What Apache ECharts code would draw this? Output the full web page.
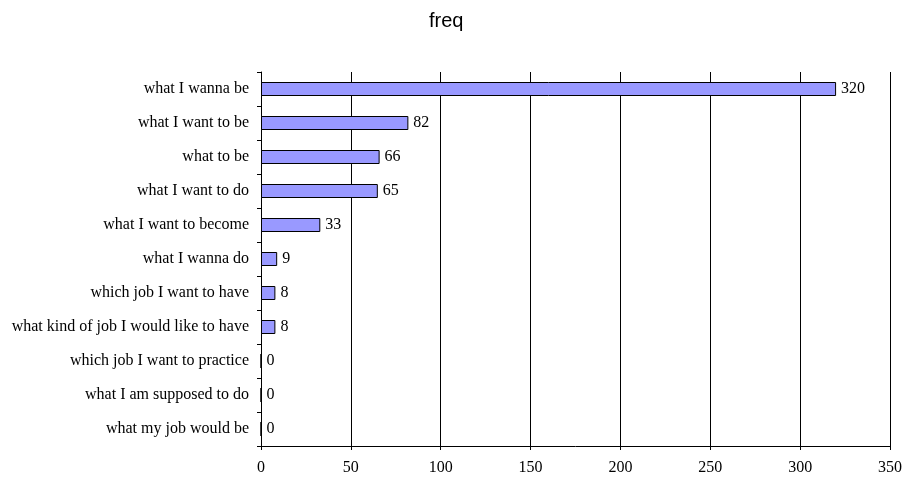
<!DOCTYPE html>
<html>
<head>
<meta charset="utf-8" />
<title>freq</title>
<script src="https://cdn.jsdelivr.net/npm/echarts@6/dist/echarts.min.js"></script>
<style>
  html, body { margin: 0; padding: 0; background: #fff; }
  #main { width: 909px; height: 479px; }
</style>
</head>
<body>
<div id="main"></div>
<script>
// categories, top to bottom
const phrases = [
    'what I wanna be',
    'what I want to be',
    'what to be',
    'what I want to do',
    'what I want to become',
    'what I wanna do',
    'which job I want to have',
    'what kind of job I would like to have',
    'which job I want to practice',
    'what I am supposed to do',
    'what my job would be'
];
const freq = [320, 82, 66, 65, 33, 9, 8, 8, 0, 0, 0];
const xTicks = [0, 350, 50]; // min, max, step

const serif = '"Liberation Serif", "DejaVu Serif", serif';

let chart = echarts.init(document.getElementById('main'));
let option = {
    animation: false,
    title: {
        text: 'freq',
        left: 424,
        top: 6,
        textStyle: {fontFamily: '"Liberation Sans", Arial, sans-serif', fontSize: 20, fontWeight: 'normal', color: '#000'}
    },
    grid: {left: 261, right: 19, top: 72, bottom: 33},
    xAxis: {
        type: 'value',
        min: xTicks[0],
        max: xTicks[1],
        interval: xTicks[2],
        axisLine: {show: true, lineStyle: {color: '#000', width: 1}},
        axisTick: {show: true, length: 4, lineStyle: {color: '#000'}},
        axisLabel: {fontFamily: serif, fontSize: 16, color: '#000', margin: 14},
        splitLine: {show: true, lineStyle: {color: '#000', width: 1}}
    },
    yAxis: {
        type: 'category',
        inverse: true,
        data: phrases,
        axisLine: {show: true, lineStyle: {color: '#000', width: 1}},
        axisTick: {show: true, length: 4, lineStyle: {color: '#000'}},
        axisLabel: {fontFamily: serif, fontSize: 16, color: '#000', margin: 12}
    },
    series: [{
        type: 'bar',
        data: freq,
        barWidth: 14,
        itemStyle: {color: '#9999ff', borderColor: '#000', borderWidth: 1},
        label: {
            show: true,
            position: 'right',
            distance: 5,
            fontFamily: serif,
            fontSize: 16,
            color: '#000'
        }
    }]
};
chart.setOption(option);
</script>
</body>
</html>
